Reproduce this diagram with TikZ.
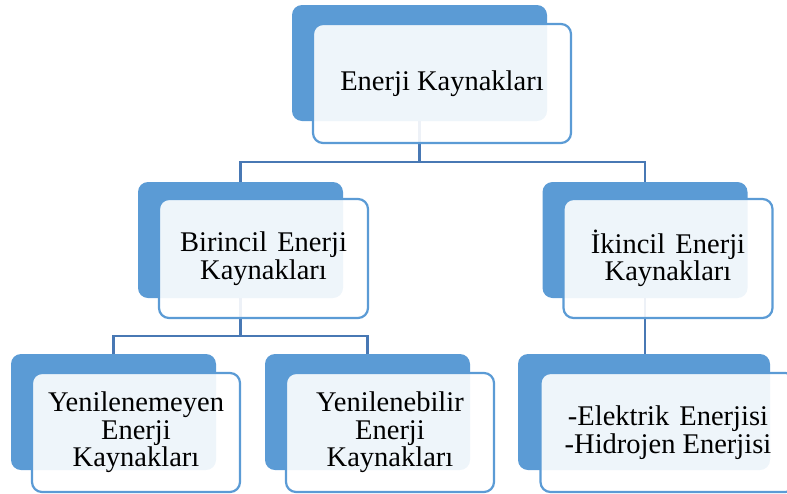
\documentclass[tikz,border=0pt]{standalone}
\usepackage{fontspec}
\setmainfont{Liberation Serif}
\usetikzlibrary{positioning}
\definecolor{boxblue}{HTML}{5B9BD5}
\definecolor{lineblue}{HTML}{4878B4}
\tikzset{x=1pt, y=-1pt, % One unit is one pixel, y runs downwards
backbox/.style={ % Blue card lying behind each box
rectangle, rounded corners=10pt,
fill=boxblue, inner sep=0pt,
minimum width=205pt, minimum height=116pt},
frontbox/.style={ % Light card carrying the text
rectangle, rounded corners=10pt,
draw=boxblue, line width=2.2pt,
fill=white, fill opacity=0.9, text opacity=1,
minimum width=209pt, minimum height=119pt, inner sep=2pt,
align=center, font=\fontsize{28.5}{27.5}\selectfont},
link/.style={ % Connectors between the levels
draw=lineblue, line width=2.4pt}}

\begin{document}
\begin{tikzpicture}

    \useasboundingbox (0,0) rectangle (787,493);

    \node[backbox, minimum width=255pt] (0b) at (419.5,63) {};
    \node[backbox] (1b) at (240.5,240) {};
    \node[backbox] (2b) at (645,240) {};
    \node[backbox] (3b) at (113.5,412) {};
    \node[backbox] (4b) at (367.5,412) {};
    \node[backbox, minimum width=252pt] (5b) at (644,412) {};

    \coordinate (j0) at ([yshift=-41pt]0b.south);
    \coordinate (j1) at ([yshift=-38pt]1b.south);
    \draw[link] (0b.south) -- (j0);
    \draw[link] (j0) -| (1b.north);
    \draw[link] (j0) -| (2b.north);
    \draw[link] (1b.south) -- (j1);
    \draw[link] (j1) -| (3b.north);
    \draw[link] (j1) -| (4b.north);
    \draw[link] (2b.south) -- (2b.south |- 5b.north);

    \node[frontbox, minimum width=258pt] (0) at ([shift={(22.5,20.5)}]0b.center) {Enerji Kaynakları};
    \node[frontbox] (1) at ([shift={(23,18.5)}]1b.center) {Birincil\hspace{3pt} Enerji\\Kaynakları};
    \node[frontbox] (2) at ([shift={(23,18.5)}]2b.center) {İkincil\hspace{3pt} Enerji\\Kaynakları};
    \node[frontbox, minimum width=208pt] (3) at ([shift={(22.5,20.5)}]3b.center) {Yenilenemeyen\\Enerji\\Kaynakları};
    \node[frontbox, minimum width=208pt] (4) at ([shift={(22.5,20.5)}]4b.center) {Yenilenebilir\\Enerji\\Kaynakları};
    \node[frontbox, minimum width=255pt] (5) at ([shift={(24,20.5)}]5b.center) {-Elektrik\hspace{3pt} Enerjisi\\-Hidrojen Enerjisi};

\end{tikzpicture}
\end{document}
